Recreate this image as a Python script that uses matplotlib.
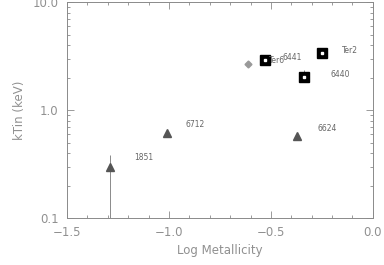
import matplotlib
matplotlib.use("Agg")
import matplotlib.pyplot as plt
import numpy as np

# Data
tri_names = ["1851", "6712", "6624"]
tri_x = [-1.29, -1.01, -0.37]
tri_y = [0.30, 0.62, 0.57]
tri_yerr_lo = [0.25, 0.0, 0.0]
tri_yerr_hi = [0.08, 0.0, 0.0]

sq_names = ["Ter6", "6440", "Ter2"]
sq_x = [-0.53, -0.34, -0.25]
sq_y = [2.88, 2.02, 3.37]
sq_yerr_lo = [0.0, 0.0, 0.25]
sq_yerr_hi = [0.0, 0.35, 0.30]

dia_x = [-0.61]
dia_y = [2.70]

labels = ["1851", "6712", "6624", "Ter6", "6441", "6440", "Ter2"]
label_x = [-1.17, -0.92, -0.27, -0.51, -0.445, -0.21, -0.15]
label_y = [0.365, 0.74, 0.67, 2.86, 3.08, 2.15, 3.55]

xticks = [-1.5, -1.0, -0.5, 0.0]
yticks = [0.1, 1.0, 10.0]
ytick_labels = ["0.1", "1.0", "10.0"]

gray = "#8a8a8a"
fig = plt.figure(figsize=(3.84, 2.65), dpi=100)
ax = fig.add_axes([0.1745, 0.177, 0.7965, 0.815])
ax.set_xlim(-1.5, 0.0)
ax.set_yscale("log")
ax.set_ylim(0.1, 10.0)

# triangles
ax.errorbar(tri_x, tri_y, yerr=[tri_yerr_lo, tri_yerr_hi], fmt="none",
            ecolor=gray, elinewidth=0.7, capsize=0)
ax.plot(tri_x, tri_y, linestyle="none", marker="^", markersize=6,
        color="#555555", markeredgecolor="#555555")

# squares
ax.errorbar(sq_x, sq_y, yerr=[sq_yerr_lo, sq_yerr_hi], fmt="none",
            ecolor=gray, elinewidth=0.7, capsize=0)
ax.plot(sq_x, sq_y, linestyle="none", marker="s", markersize=6.5,
        color="black", markeredgecolor="black")
ax.plot(sq_x, sq_y, linestyle="none", marker="s", markersize=2,
        color="white", markeredgecolor="white")

# diamond
ax.errorbar(dia_x, dia_y, xerr=[[0.01], [0.01]], yerr=[[0.15], [0.15]], fmt="none",
            ecolor="#bbbbbb", elinewidth=0.7, capsize=0)
ax.plot(dia_x, dia_y, linestyle="none", marker="D", markersize=3.5,
        color="#999999", markeredgecolor="#999999")

for t, x, y in zip(labels, label_x, label_y):
    ax.text(x, y, t, fontsize=5.5, color="#666666", ha="left", va="center")

ax.set_xticks(xticks)
ax.set_xticklabels(["\u22121.5", "\u22121.0", "\u22120.5", "0.0"])
ax.set_xticks(np.arange(-1.5, 0.001, 0.1), minor=True)
ax.set_yticks(yticks)
ax.set_yticklabels(ytick_labels)
ax.tick_params(which="both", direction="in", top=True, right=True,
               colors=gray, labelcolor="#909090", labelsize=8.5, width=0.6)
ax.tick_params(which="major", length=5, pad=6)
ax.tick_params(which="minor", length=2.5)
ax.tick_params(axis="y", which="minor", labelleft=False)
for s in ax.spines.values():
    s.set_color(gray)
    s.set_linewidth(0.7)

ax.set_xlabel("Log Metallicity", fontsize=8.5, color="#909090", labelpad=3)
ax.set_ylabel("kTin (keV)", fontsize=8.5, color="#909090", labelpad=5)

fig.savefig("out.png", dpi=100)
